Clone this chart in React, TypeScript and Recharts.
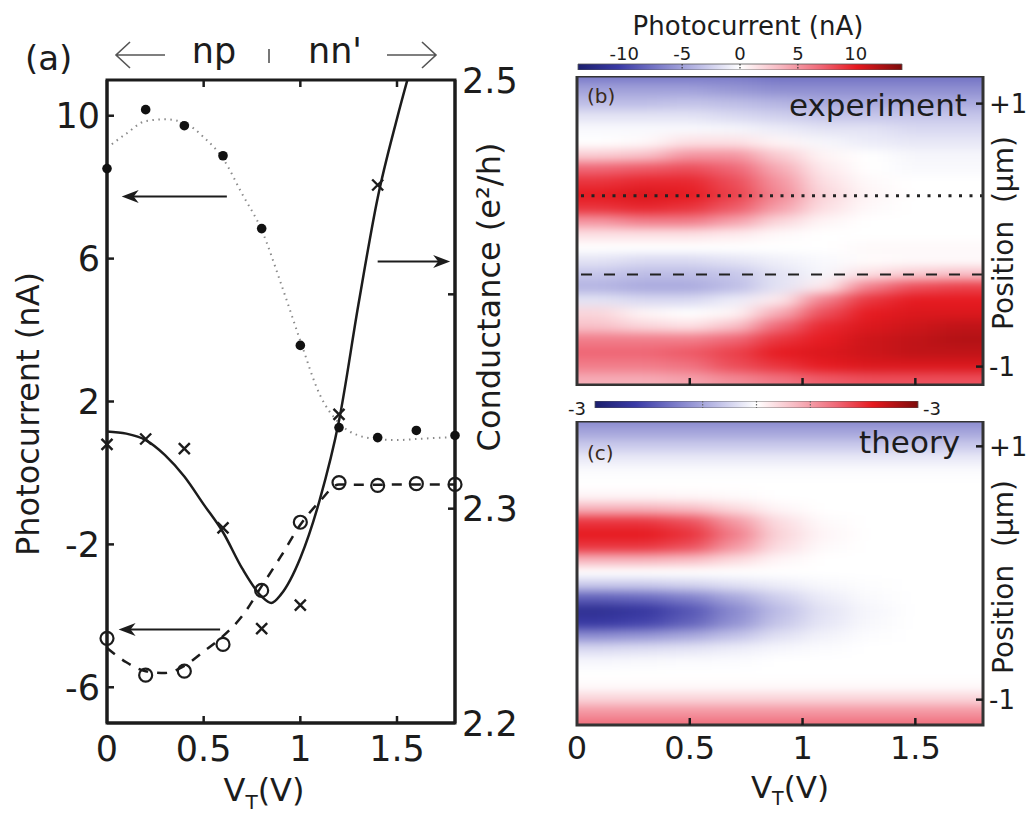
import React from 'react';
import { ComposedChart, Line, Scatter, XAxis, YAxis, ReferenceLine, ReferenceArea } from 'recharts';

const FONT = '"DejaVu Sans", Verdana, sans-serif';
const INK = '#1c1c1c';

// ---- panel (a): measured points ----
const vMeas = [0, 0.2, 0.4, 0.6, 0.8, 1, 1.2, 1.4, 1.6, 1.8];
const pcFilled = [8.52, 10.17, 9.72, 8.88, 6.84, 3.57, 1.27, 0.99, 1.19, 1.05];
const pcOpen = [-4.63, -5.66, -5.55, -4.8, -3.29, -1.38, -0.27, -0.35, -0.3, -0.32];
const vCross = [0, 0.2, 0.4, 0.6, 0.8, 1, 1.2, 1.4];
const gCross = [2.33, 2.3325, 2.328, 2.291, 2.244, 2.255, 2.344, 2.451];

// ---- panel (a): fitted curves ----
const vFit = [0, 0.1, 0.2, 0.3, 0.4, 0.5, 0.6, 0.7, 0.8, 0.9, 1, 1.1, 1.2, 1.3, 1.4, 1.5, 1.6, 1.7, 1.8];
const pcDotted = [9.1, 9.5, 9.85, 9.9, 9.8, 9.4, 8.8, 7.8, 6.8, 5.3, 3.7, 2.2, 1.4, 1.05, 0.95, 0.92, 0.95, 0.98, 1.0];
const pcDashed = [-4.9, -5.3, -5.55, -5.6, -5.4, -5.0, -4.57, -4.0, -3.17, -2.33, -1.45, -0.8, -0.32, -0.33, -0.33, -0.32, -0.32, -0.32, -0.32];
const vGFit = [0, 0.1, 0.2, 0.3, 0.4, 0.5, 0.6, 0.7, 0.8, 0.85, 0.9, 1, 1.1, 1.2, 1.3, 1.4, 1.5, 1.6];
const gFit = [2.336, 2.335, 2.332, 2.325, 2.315, 2.302, 2.289, 2.272, 2.259, 2.256, 2.26, 2.277, 2.304, 2.341, 2.395, 2.445, 2.482, 2.515];

const xTicks = [0, 0.5, 1, 1.5];
const pcTicks = [-6, -2, 2, 6, 10];
const gTicks = [2.2, 2.3, 2.4, 2.5];
const posTicks = [-1, 1];

// ---- panels (b),(c): maps, rows = position (um), cols = V_T (V) ----
const posRows = [1.3, 1.2, 1.1, 1.0, 0.9, 0.8, 0.7, 0.6, 0.5, 0.4, 0.3, 0.2, 0.1, 0, -0.1, -0.2, -0.3, -0.4, -0.5, -0.6, -0.7, -0.8, -0.9, -1.0, -1.1, -1.2, -1.3];
const vCols = [-0.1, 0.1, 0.3, 0.5, 0.7, 0.9, 1.1, 1.3, 1.5, 1.7, 1.9];

const expMap = [
  [-8, -8, -8, -8, -8, -8.5, -8.5, -8.5, -8.5, -8.5, -8.5],
  [-7, -7, -7, -7, -7, -7.5, -7.5, -7.5, -7.5, -7.5, -7.5],
  [-5, -5, -5, -5, -5.5, -6, -6, -6, -6, -6, -6],
  [-3.5, -3.5, -3.5, -3.2, -3.5, -4, -4.5, -4.5, -4.5, -4.5, -4.5],
  [-1.5, -1.5, -1.5, -1.5, -2, -2.5, -3, -3, -3, -3, -3],
  [-0.3, -0.3, -0.3, -0.3, -0.5, -1, -1.5, -1.5, -2, -2, -2],
  [0, 0, 0.3, 1.5, 1.5, 0.5, -0.5, -1, -1.2, -1.2, -1.2],
  [2.5, 2.5, 3, 5, 5, 2.5, 0.5, 0, -0.5, -0.5, -0.5],
  [7, 7, 7.5, 8, 7, 4, 1, 0, -0.3, -0.3, -0.3],
  [9, 9, 9.5, 9.5, 8, 5, 1.5, 0.3, 0, 0, 0],
  [10, 10, 10.5, 10, 8.5, 5.5, 2, 0.5, 0, 0, 0],
  [9, 9, 9.5, 9, 7.5, 4.5, 1.5, 0.3, 0, 0, 0],
  [5, 5, 6, 6, 4.5, 2, 0.5, 0, 0, 0, 0],
  [1.5, 1.5, 1.5, 1.5, 1, 0.3, 0, 0, 0, 0, 0],
  [0, 0, 0, 0, 0, 0, 0, 0.3, 0.3, 0.3, 0.3],
  [-1.5, -1.5, -2, -2, -1.5, -0.8, -0.3, 0.2, 0.3, 0.3, 0.3],
  [-3, -3, -3.5, -3.5, -3, -1.5, -0.5, 1.5, 2.5, 3, 3],
  [-4, -4, -4.5, -4.5, -3.5, -1.5, 1, 6, 8, 8.5, 8.5],
  [-1.5, -1.5, -2, -2, -1, 1, 6, 9, 10, 10, 10],
  [2, 2, 0.5, 0, 0.5, 4, 8, 10, 10.5, 10.5, 10.5],
  [3, 3, 2, 1.5, 3, 7, 9.5, 10.5, 11, 11.5, 11.5],
  [6, 6, 6, 6, 7, 9, 10, 11, 11.5, 12, 12],
  [7, 7, 7, 7.5, 8.5, 10, 10.5, 11, 11.5, 11.5, 11.5],
  [6, 6, 6, 6.5, 8, 9, 10, 10.5, 10.5, 10.5, 10.5],
  [4, 4, 4, 4.5, 5.5, 6.5, 7.5, 8, 8, 8, 8],
  [3.5, 3.5, 3.5, 4, 5, 6, 7, 7.5, 7.5, 7.5, 7.5],
  [3.5, 3.5, 3.5, 4, 5, 6, 7, 7.5, 7.5, 7.5, 7.5],
];

const thMap = [
  [-1.5, -1.5, -1.5, -1.5, -1.5, -1.5, -1.5, -1.5, -1.5, -1.5, -1.5],
  [-1.35, -1.35, -1.35, -1.35, -1.35, -1.35, -1.35, -1.35, -1.35, -1.35, -1.35],
  [-1, -1, -1, -1, -1, -1, -1, -1, -1, -1, -1],
  [-0.6, -0.6, -0.6, -0.6, -0.6, -0.6, -0.6, -0.6, -0.6, -0.6, -0.6],
  [-0.25, -0.25, -0.25, -0.25, -0.25, -0.25, -0.25, -0.25, -0.25, -0.25, -0.25],
  [-0.05, -0.05, -0.05, -0.05, -0.05, -0.05, -0.05, -0.05, -0.05, -0.05, -0.05],
  [0, 0, 0, 0, 0, 0, 0, 0, 0, 0, 0],
  [0.1, 0.1, 0.1, 0.08, 0.05, 0, 0, 0, 0, 0, 0],
  [0.8, 0.8, 0.8, 0.7, 0.4, 0.1, 0, 0, 0, 0, 0],
  [1.9, 1.9, 1.9, 1.7, 1.05, 0.35, 0.05, 0, 0, 0, 0],
  [2.15, 2.15, 2.15, 1.95, 1.3, 0.45, 0.1, 0, 0, 0, 0],
  [1.9, 1.9, 1.9, 1.7, 1.05, 0.35, 0.05, 0, 0, 0, 0],
  [0.8, 0.8, 0.8, 0.7, 0.4, 0.1, 0, 0, 0, 0, 0],
  [0, 0, 0, 0, 0, 0, 0, 0, 0, 0, 0],
  [-0.6, -0.6, -0.6, -0.5, -0.35, -0.2, -0.08, -0.02, 0, 0, 0],
  [-1.8, -1.8, -1.7, -1.45, -1.0, -0.55, -0.22, -0.06, 0, 0, 0],
  [-2.5, -2.5, -2.35, -1.95, -1.35, -0.75, -0.32, -0.1, 0, 0, 0],
  [-2.3, -2.3, -2.15, -1.8, -1.25, -0.65, -0.28, -0.08, 0, 0, 0],
  [-1.3, -1.3, -1.2, -1.0, -0.7, -0.35, -0.15, -0.03, 0, 0, 0],
  [-0.45, -0.45, -0.4, -0.33, -0.22, -0.1, -0.04, 0, 0, 0, 0],
  [-0.1, -0.1, -0.08, -0.06, -0.04, 0, 0, 0, 0, 0, 0],
  [0, 0, 0, 0, 0, 0, 0, 0, 0, 0, 0],
  [0.05, 0.05, 0.05, 0.05, 0.05, 0.05, 0.05, 0.05, 0.05, 0.05, 0.05],
  [0.45, 0.45, 0.45, 0.45, 0.45, 0.45, 0.45, 0.45, 0.45, 0.45, 0.45],
  [1.05, 1.05, 1.05, 1.05, 1.05, 1.05, 1.05, 1.05, 1.05, 1.05, 1.05],
  [1.4, 1.4, 1.4, 1.4, 1.4, 1.4, 1.4, 1.4, 1.4, 1.4, 1.4],
  [1.5, 1.5, 1.5, 1.5, 1.5, 1.5, 1.5, 1.5, 1.5, 1.5, 1.5],
];

const cbTicksExp = [-10, -5, 0, 5, 10];
const cbMarksExp = [-5, 0, 5];
const cbMarksTh = [-1, 0, 1];

// blue - white - red colour map
const CMAP: [number, number[]][] = [
  [-1, [27, 31, 110]],
  [-0.75, [58, 58, 166]],
  [-0.5, [124, 124, 201]],
  [-0.25, [189, 189, 230]],
  [0, [255, 255, 255]],
  [0.25, [247, 183, 192]],
  [0.5, [239, 102, 117]],
  [0.72, [230, 25, 31]],
  [1, [125, 11, 11]],
];

function cmap(t: number) {
  const c = Math.max(-1, Math.min(1, t));
  for (let i = 1; i < CMAP.length; i++) {
    const [t1, a] = CMAP[i - 1];
    const [t2, b] = CMAP[i];
    if (c <= t2) {
      const f = (c - t1) / (t2 - t1);
      const rgb = a.map((x, k) => Math.round(x + (b[k] - x) * f));
      return `rgb(${rgb[0]},${rgb[1]},${rgb[2]})`;
    }
  }
  return 'rgb(125,11,11)';
}

const pts = (xs: number[], ys: number[]) => xs.map((v, i) => ({ v, y: ys[i] }));
const cells = (map: number[][]) => posRows.flatMap((p, i) => vCols.map((v, j) => ({ v, p, z: map[i][j] })));

const ArrowShape = (p: any) => {
  const { x1, y1, x2, y2 } = p;
  const dir = Math.sign(x2 - x1) || 1;
  const head = `M${x2},${y2} L${x2 - dir * 17},${y2 - 6.5} L${x2 - dir * 12},${y2} L${x2 - dir * 17},${y2 + 6.5} Z`;
  return (
    <g>
      <line x1={x1} y1={y1} x2={x2 - dir * 10} y2={y2} stroke={INK} strokeWidth={2} />
      <path d={head} fill={INK} />
    </g>
  );
};

// panel (a) frame
const A_TOP = 80;
const TICK_IN = 7;

// tick renderers: label outside, short tick mark pointing into the plot
const bottomTick = (margin: number, size: number, topY: number | null, labels: boolean) => (p: any) => {
  const { x, y, payload } = p;
  const base = y - margin;
  const inner = payload.value > 0;
  return (
    <g>
      {inner && <line x1={x} y1={base} x2={x} y2={base - TICK_IN} stroke={INK} strokeWidth={2.5} />}
      {inner && topY !== null && <line x1={x} y1={topY} x2={x} y2={topY + TICK_IN} stroke={INK} strokeWidth={2.5} />}
      {labels && (
        <text x={x} y={y} dy="0.75em" textAnchor="middle" fontSize={size} fontFamily={FONT} fill={INK}>{payload.value}</text>
      )}
    </g>
  );
};

const leftTick = (p: any) => {
  const { x, y, payload } = p;
  return (
    <g>
      <line x1={x + 7} y1={y} x2={x + 7 + TICK_IN} y2={y} stroke={INK} strokeWidth={2.5} />
      <text x={x} y={y} dy="0.36em" textAnchor="end" fontSize={35} fontFamily={FONT} fill={INK}>{payload.value}</text>
    </g>
  );
};

const rightTick = (margin: number, size: number, fmt: (v: number) => string, inner: (v: number) => boolean) => (p: any) => {
  const { x, y, payload } = p;
  return (
    <g>
      {inner(payload.value) && <line x1={x - margin} y1={y} x2={x - margin - TICK_IN} y2={y} stroke={INK} strokeWidth={2.5} />}
      <text x={x} y={y} dy="0.36em" textAnchor="start" fontSize={size} fontFamily={FONT} fill={INK}>{fmt(payload.value)}</text>
    </g>
  );
};

function PanelA() {
  return (
    <ComposedChart width={530} height={814} margin={{ top: A_TOP, right: 0, bottom: 0, left: 0 }}>
      <XAxis dataKey="v" type="number" domain={[0, 1.8]} ticks={xTicks} height={91} tickSize={0} tickMargin={12}
        stroke={INK} strokeWidth={3} tick={bottomTick(12, 35, A_TOP, true)} />
      <YAxis yAxisId="pc" dataKey="y" orientation="left" width={107} type="number" domain={[-7, 11]} ticks={pcTicks}
        tickSize={0} tickMargin={7} stroke={INK} strokeWidth={3} tick={leftTick} />
      <YAxis yAxisId="g" dataKey="y" orientation="right" width={75} type="number" domain={[2.2, 2.5]} ticks={gTicks}
        allowDataOverflow tickSize={0} tickMargin={7} stroke={INK} strokeWidth={3}
        tick={rightTick(7, 35, (v) => (v === 2.4 ? '' : v.toFixed(1)), (v) => v === 2.3 || v === 2.4)} />

      <Line yAxisId="pc" data={pts(vFit, pcDotted)} dataKey="y" type="monotone" stroke="#8a8a8a" strokeWidth={2}
        strokeDasharray="1.5 4.5" dot={false} isAnimationActive={false} />
      <Line yAxisId="pc" data={pts(vFit, pcDashed)} dataKey="y" type="monotone" stroke={INK} strokeWidth={2.5}
        strokeDasharray="10 9" dot={false} isAnimationActive={false} />
      <Line yAxisId="g" data={pts(vGFit, gFit)} dataKey="y" type="monotone" stroke={INK} strokeWidth={2.5}
        dot={false} isAnimationActive={false} />

      <Scatter yAxisId="pc" data={pts(vMeas, pcFilled)} dataKey="y" isAnimationActive={false}
        shape={(p: any) => <circle cx={p.cx} cy={p.cy} r={4.8} fill="#111" />} />
      <Scatter yAxisId="pc" data={pts(vMeas, pcOpen)} dataKey="y" isAnimationActive={false}
        shape={(p: any) => <circle cx={p.cx} cy={p.cy} r={6.5} fill="none" stroke={INK} strokeWidth={2.2} />} />
      <Scatter yAxisId="g" data={pts(vCross, gCross)} dataKey="y" isAnimationActive={false}
        shape={(p: any) => (
          <path d={`M${p.cx - 5.5},${p.cy - 5.5}L${p.cx + 5.5},${p.cy + 5.5}M${p.cx - 5.5},${p.cy + 5.5}L${p.cx + 5.5},${p.cy - 5.5}`}
            stroke={INK} strokeWidth={2.4} />
        )} />

      <ReferenceLine yAxisId="pc" segment={[{ x: 0.62, y: 7.74 }, { x: 0.076, y: 7.74 }]} shape={ArrowShape} />
      <ReferenceLine yAxisId="pc" segment={[{ x: 0.585, y: -4.38 }, { x: 0.06, y: -4.38 }]} shape={ArrowShape} />
      <ReferenceLine yAxisId="pc" segment={[{ x: 1.4, y: 5.92 }, { x: 1.775, y: 5.92 }]} shape={ArrowShape} />
      <ReferenceArea yAxisId="pc" x1={0} x2={1.8} y1={-7} y2={11} fill="none" fillOpacity={0} stroke={INK} strokeWidth={3} />
    </ComposedChart>
  );
}

type HeatProps = { map: number[][]; scale: number; lo: number; hi: number; plotH: number; axisH: number; guides: boolean };

function HeatPanel({ map, scale, lo, hi, plotH, axisH, guides }: HeatProps) {
  const cellW = (406 * 0.2) / 1.8 + 1.5;
  const cellH = (plotH * 0.1) / (hi - lo) + 1.5;
  const labels = axisH > 2;
  const shape = (p: any) => (
    <rect x={p.cx - cellW / 2} y={p.cy - cellH / 2} width={cellW} height={cellH} fill={cmap(p.payload.z / scale)} />
  );
  return (
    <ComposedChart width={487} height={plotH + axisH} margin={{ top: 0, right: 0, bottom: 0, left: 37 }}>
      <XAxis dataKey="v" type="number" domain={[0, 1.8]} allowDataOverflow ticks={xTicks} height={axisH}
        tickSize={0} tickMargin={10} axisLine={false} tick={bottomTick(10, 32, null, labels)} />
      <YAxis dataKey="p" orientation="right" width={44} type="number" domain={[lo, hi]} allowDataOverflow ticks={posTicks}
        tickSize={0} tickMargin={6} axisLine={false}
        tick={rightTick(6, 26, (v) => (v > 0 ? '+1' : '-1'), () => true)} />
      <Scatter data={cells(map)} dataKey="p" shape={shape} isAnimationActive={false} />
      {guides && <ReferenceLine y={0.3} stroke="#222" strokeWidth={3} strokeDasharray="3 7.5" zIndex={800} />}
      {guides && <ReferenceLine y={-0.3} stroke="#222" strokeWidth={2} strokeDasharray="11 12" zIndex={800} />}
      <ReferenceArea x1={0} x2={1.8} y1={lo} y2={hi} fill="none" fillOpacity={0} stroke="#333" strokeWidth={3} zIndex={900} />
    </ComposedChart>
  );
}

function ColorBar({ lo, hi, marks, labels, markColor }: { lo: number; hi: number; marks: number[]; labels: boolean; markColor: string }) {
  return (
    <ComposedChart width={labels ? 344 : 343} height={labels ? 30 : 7} margin={{ top: 0, right: 10, bottom: 0, left: 10 }}>
      <XAxis dataKey="v" type="number" orientation="top" domain={[lo, hi]} ticks={labels ? cbTicksExp : marks}
        height={labels ? 24 : 1} hide={!labels} tickSize={0} tickLine={false} axisLine={false} tickMargin={4}
        tick={{ fontSize: 18, fill: INK, fontFamily: FONT }} />
      <YAxis hide type="number" domain={[0, 1]} />
      <Line data={[{ v: lo, y: 0.5 }, { v: hi, y: 0.5 }]} dataKey="y" stroke="none" dot={false} isAnimationActive={false} />
      <ReferenceArea x1={lo} x2={hi} y1={0} y2={1} fill="url(#cmapGrad)" fillOpacity={1} stroke="#555" strokeWidth={0.8} />
      {marks.map((m) => (
        <ReferenceLine key={m} x={m} stroke={markColor} strokeWidth={1.2} strokeDasharray="1.5 1.5" zIndex={800} />
      ))}
    </ComposedChart>
  );
}

export default function App() {
  return (
    <div style={{ position: 'absolute', left: 0, top: 0, width: 1027, height: 814, background: '#fff', overflow: 'hidden' }}>
      <style>{`.heatB .recharts-scatter, .heatC .recharts-scatter { filter: url(#heatBlur); }`}</style>
      <svg width={0} height={0} style={{ position: 'absolute' }}>
        <defs>
          <filter id="heatBlur" x="-20%" y="-20%" width="140%" height="140%" colorInterpolationFilters="sRGB">
            <feGaussianBlur stdDeviation="15 5" />
          </filter>
          <linearGradient id="cmapGrad" x1="0" y1="0" x2="1" y2="0">
            {CMAP.map(([t, c]) => (
              <stop key={t} offset={(t + 1) / 2} stopColor={`rgb(${c[0]},${c[1]},${c[2]})`} />
            ))}
          </linearGradient>
        </defs>
      </svg>

      <div style={{ position: 'absolute', left: 0, top: 0 }}>
        <PanelA />
      </div>
      <div className="heatB" style={{ position: 'absolute', left: 540, top: 76 }}>
        <HeatPanel map={expMap} scale={14} lo={-1.14} hi={1.21} plotH={309} axisH={1} guides />
      </div>
      <div className="heatC" style={{ position: 'absolute', left: 540, top: 421 }}>
        <HeatPanel map={thMap} scale={3} lo={-1.2} hi={1.2} plotH={304} axisH={89} guides={false} />
      </div>
      <div style={{ position: 'absolute', left: 568, top: 40 }}>
        <ColorBar lo={-14} hi={14} marks={cbMarksExp} labels markColor="#333" />
      </div>
      <div style={{ position: 'absolute', left: 585, top: 401 }}>
        <ColorBar lo={-3} hi={3} marks={cbMarksTh} labels={false} markColor="#666" />
      </div>

      <svg width={1027} height={814} style={{ position: 'absolute', left: 0, top: 0, pointerEvents: 'none' }}
        fontFamily={FONT} fill={INK}>
        <text x={25} y={70} fontSize={34}>(a)</text>
        <g stroke="#555" strokeWidth={1.6} fill="none">
          <path d="M165,55 H116 M130,42 L116,55 L130,68" />
          <path d="M387,55 H436 M422,42 L436,55 L422,68" />
          <path d="M269,49 V63" />
        </g>
        <text x={214} y={63} fontSize={35} textAnchor="middle">np</text>
        <text x={335} y={63} fontSize={35} textAnchor="middle">nn'</text>
        <text transform="translate(39,414) rotate(-90)" fontSize={32} textAnchor="middle">Photocurrent (nA)</text>
        <text transform="translate(500,297) rotate(-90)" fontSize={32} textAnchor="middle">Conductance (e²/h)</text>
        <text x={264} y={801} fontSize={32} textAnchor="middle">
          V<tspan fontSize={20} dy={8}>T</tspan><tspan dy={-8}>(V)</tspan>
        </text>

        <text x={748} y={35} fontSize={26} textAnchor="middle">Photocurrent (nA)</text>
        <text x={577} y={415} fontSize={18} textAnchor="middle">-3</text>
        <text x={932} y={415} fontSize={18} textAnchor="middle">-3</text>

        <text x={587} y={103} fontSize={20} fill="#3a2a1a">(b)</text>
        <text x={967} y={116} fontSize={31} textAnchor="end">experiment</text>
        <text transform="translate(1013,233) rotate(-90)" fontSize={28} textAnchor="middle" style={{ whiteSpace: 'pre' }}>Position  (µm)</text>

        <text x={587} y={460} fontSize={20} fill="#3a2a1a">(c)</text>
        <text x={960} y={453} fontSize={31} textAnchor="end">theory</text>
        <text transform="translate(1013,577) rotate(-90)" fontSize={28} textAnchor="middle" style={{ whiteSpace: 'pre' }}>Position  (µm)</text>
        <text x={790} y={798} fontSize={31} textAnchor="middle">
          V<tspan fontSize={19} dy={7}>T</tspan><tspan dy={-7}>(V)</tspan>
        </text>
      </svg>
    </div>
  );
}
